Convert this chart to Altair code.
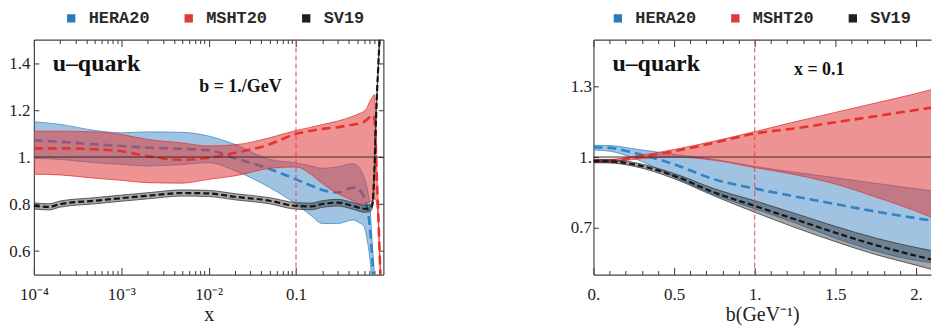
import altair as alt
import pandas as pd

SERIF = "Liberation Serif"
MONO = "Courier New"

SERIES = ["HERA20", "MSHT20", "SV19"]
SERIES_COLORS = ["#2b7bba", "#e03a3a", "#231f20"]

# ---------------- left panel: ratio vs x at b = 1/GeV ----------------
HERA_L_X = [1e-4, 2e-4, 5e-4, 1e-3, 2e-3, 5e-3, 1e-2, 2e-2, 5e-2, 0.1, 0.15, 0.2, 0.3, 0.45,
            0.53, 0.6, 0.65, 0.7, 0.75, 0.79, 0.83]
HERA_L_HI = [1.150, 1.139, 1.113, 1.103, 1.107, 1.105, 1.089, 1.054, 0.990, 0.975, 0.962, 0.952,
             0.958, 0.972, 0.955, 0.915, 0.870, 0.790, 0.620, 0.500, 0.350]
HERA_L_MID = [1.071, 1.065, 1.054, 1.047, 1.040, 1.035, 1.029, 0.995, 0.949, 0.905, 0.878, 0.860,
              0.849, 0.870, 0.860, 0.830, 0.785, 0.705, 0.555, 0.440, 0.300]
HERA_L_LO = [0.995, 0.990, 0.976, 0.969, 0.962, 0.968, 0.976, 0.942, 0.870, 0.800, 0.750, 0.717,
             0.717, 0.732, 0.720, 0.705, 0.650, 0.570, 0.450, 0.350, 0.250]

MSHT_L_X = [1e-4, 2e-4, 5e-4, 1e-3, 2e-3, 5e-3, 1e-2, 2e-2, 5e-2, 0.1, 0.15, 0.2, 0.3, 0.45,
            0.53, 0.6, 0.65, 0.7, 0.75, 0.79, 0.81, 0.84, 0.87, 0.9, 0.95]
MSHT_L_HI = [1.110, 1.110, 1.107, 1.096, 1.075, 1.060, 1.047, 1.052, 1.082, 1.113, 1.127, 1.138,
             1.153, 1.174, 1.185, 1.195, 1.210, 1.237, 1.255, 1.266, 1.200, 0.950, 0.800, 0.640, 0.400]
MSHT_L_MID = [1.037, 1.037, 1.033, 1.025, 1.004, 0.988, 0.997, 1.018, 1.054, 1.099, 1.112, 1.120,
              1.127, 1.138, 1.143, 1.150, 1.160, 1.170, 1.180, 1.160, 1.100, 0.920, 0.780, 0.620, 0.380]
MSHT_L_LO = [0.927, 0.924, 0.910, 0.901, 0.891, 0.889, 0.905, 0.920, 0.952, 0.958, 0.925, 0.887,
             0.845, 0.814, 0.800, 0.800, 0.805, 0.810, 0.815, 0.820, 0.820, 0.800, 0.740, 0.600, 0.360]

SV19_L_X = [1e-4, 1.5e-4, 2e-4, 5e-4, 1e-3, 2e-3, 5e-3, 1e-2, 2e-2, 5e-2, 0.1, 0.15, 0.2, 0.3,
            0.45, 0.6, 0.7, 0.75, 0.79, 0.825, 0.9, 0.95]
SV19_L_HI = [0.805, 0.801, 0.813, 0.827, 0.838, 0.848, 0.860, 0.858, 0.844, 0.827, 0.806, 0.804,
             0.814, 0.820, 0.806, 0.795, 0.797, 0.815, 0.965, 1.185, 1.505, 1.715]
SV19_L_MID = [0.792, 0.788, 0.800, 0.814, 0.825, 0.835, 0.847, 0.845, 0.831, 0.814, 0.792, 0.790,
              0.800, 0.806, 0.792, 0.780, 0.782, 0.800, 0.950, 1.170, 1.490, 1.700]
SV19_L_LO = [0.779, 0.775, 0.787, 0.801, 0.812, 0.822, 0.834, 0.832, 0.818, 0.801, 0.778, 0.776,
             0.786, 0.792, 0.778, 0.765, 0.767, 0.785, 0.935, 1.155, 1.475, 1.685]

# ---------------- right panel: ratio vs b at x = 0.1 ----------------
B_R = [0.0, 0.1, 0.25, 0.5, 0.75, 1.0, 1.25, 1.5, 1.75, 2.0, 2.17]
HERA_R_HI = [1.050, 1.049, 1.035, 1.011, 0.990, 0.960, 0.935, 0.912, 0.888, 0.865, 0.850]
HERA_R_MID = [1.042, 1.039, 1.018, 0.969, 0.905, 0.866, 0.832, 0.800, 0.768, 0.740, 0.722]
HERA_R_LO = [1.030, 1.025, 0.995, 0.915, 0.840, 0.780, 0.720, 0.655, 0.600, 0.560, 0.545]
MSHT_R_HI = [0.990, 0.990, 1.003, 1.032, 1.068, 1.108, 1.150, 1.190, 1.230, 1.270, 1.300]
MSHT_R_MID = [0.983, 0.983, 0.997, 1.025, 1.061, 1.100, 1.122, 1.148, 1.174, 1.200, 1.218]
MSHT_R_LO = [0.976, 0.977, 0.990, 1.000, 0.986, 0.955, 0.925, 0.885, 0.830, 0.770, 0.722]
SV19_R_HI = [0.990, 0.989, 0.977, 0.930, 0.865, 0.814, 0.760, 0.705, 0.655, 0.615, 0.593]
SV19_R_MID = [0.983, 0.982, 0.969, 0.920, 0.849, 0.792, 0.735, 0.678, 0.625, 0.580, 0.552]
SV19_R_LO = [0.976, 0.975, 0.961, 0.908, 0.834, 0.765, 0.700, 0.640, 0.585, 0.540, 0.508]

# tick positions
L_MAJOR = [1e-4, 1e-3, 1e-2, 0.1]
L_MINOR = [k * 10.0 ** e for e in range(-4, 0) for k in range(2, 10)]
L_Y = [0.6, 0.8, 1.0, 1.2, 1.4]
R_MAJOR = [0.0, 0.5, 1.0, 1.5, 2.0]
R_MINOR = [0.1, 0.2, 0.3, 0.4, 0.6, 0.7, 0.8, 0.9, 1.1, 1.2, 1.3, 1.4, 1.6, 1.7, 1.8, 1.9]
R_Y = [0.7, 1.0, 1.3]

STYLE = {
    "HERA20": dict(opacity=0.45, edge="#3f8dca", line="#2f84c6", dash=[9, 5], lw=2.6),
    "MSHT20": dict(opacity=0.55, edge="#e03a3a", line="#e8312b", dash=[9, 5], lw=2.6),
    "SV19": dict(opacity=0.40, edge="#3a3a3a", line="#151515", dash=[6, 3], lw=2.2),
}
FRAME = "#444"


def frame(x, hi, mid, lo, name):
    return pd.DataFrame({"x": x, "hi": hi, "mid": mid, "lo": lo, "series": name})


def ax(orient, values, size, label_expr=None, title=None, pad=4):
    kw = dict(orient=orient, values=values, tickSize=size, offset=-size, domain=False,
              grid=False, tickColor="#333", tickWidth=1)
    if label_expr:
        kw.update(labels=True, labelExpr=label_expr, labelFont=SERIF, labelFontSize=17,
                  labelColor="#222", labelPadding=pad, labelFlush=False, labelOverlap=False)
    else:
        kw.update(labels=False)
    if title:
        kw.update(title=title, titleFont=SERIF, titleFontSize=20, titleFontWeight="normal",
                  titleColor="#222", titlePadding=2)
    else:
        kw.update(title=None)
    return alt.Axis(**kw)


def dom(orient):
    return alt.Axis(orient=orient, domain=True, domainColor=FRAME, domainWidth=1.2, ticks=False,
                    labels=False, grid=False, title=None)


def panel(frames, xscale, yscale, x_axes, y_axes, legend, width, height, vline, texts):
    color_scale = alt.Scale(domain=SERIES, range=SERIES_COLORS)
    makers = []
    for df in frames:
        name = df["series"].iloc[0]
        st = STYLE[name]
        base = alt.Chart(df)

        def area(xa, ya, base=base, st=st):
            return base.mark_area(opacity=st["opacity"], clip=True, interpolate="monotone").encode(
                x=alt.X("x:Q", scale=xscale, axis=xa),
                y=alt.Y("lo:Q", scale=yscale, axis=ya),
                y2="hi:Q",
                color=alt.Color("series:N", scale=color_scale, legend=legend),
            )

        def edge(field):
            def f(xa, ya, base=base, st=st, field=field):
                return base.mark_line(color=st["edge"], strokeWidth=0.8, clip=True,
                                      interpolate="monotone").encode(
                    x=alt.X("x:Q", scale=xscale, axis=xa),
                    y=alt.Y(f"{field}:Q", scale=yscale, axis=ya),
                )
            return f

        def mid(xa, ya, base=base, st=st):
            return base.mark_line(color=st["line"], strokeWidth=st["lw"], strokeDash=st["dash"],
                                  clip=True, interpolate="monotone").encode(
                x=alt.X("x:Q", scale=xscale, axis=xa),
                y=alt.Y("mid:Q", scale=yscale, axis=ya),
            )

        makers += [area, edge("hi"), edge("lo"), mid]

    layers = []
    for i, mk in enumerate(makers):
        xa = x_axes[i] if i < len(x_axes) else None
        ya = y_axes[i] if i < len(y_axes) else None
        layers.append(mk(xa, ya))

    one = pd.DataFrame({"k": [0]})
    layers.append(alt.Chart(one).mark_rule(color="#3a2a2a", strokeWidth=1).encode(
        y=alt.YDatum(datum=1.0, axis=None, scale=yscale)))
    layers.append(alt.Chart(one).mark_rule(color="#e8474a", strokeWidth=1, strokeDash=[5, 3]).encode(
        x=alt.XDatum(datum=vline, axis=None, scale=xscale)))
    for label, xv, yv, size in texts:
        layers.append(alt.Chart(pd.DataFrame({"label": [label]})).mark_text(
            font=SERIF, fontSize=size, fontWeight="bold", color="#111").encode(
            x=alt.XDatum(datum=xv, axis=None, scale=xscale),
            y=alt.YDatum(datum=yv, axis=None, scale=yscale),
            text="label:N"))

    return alt.layer(*layers).resolve_axis(x="independent", y="independent").properties(
        width=width, height=height)


def legend_at(lx, colpad):
    return alt.Legend(orient="none", legendX=lx, legendY=-30, direction="horizontal", title=None,
                      symbolType="square", symbolSize=70, symbolOpacity=1, symbolStrokeWidth=0,
                      labelFont=MONO, labelFontSize=17, labelFontWeight="bold",
                      labelColor="#2a2a2a", labelOffset=9, columnPadding=colpad, padding=0)


left_frames = [
    frame(HERA_L_X, HERA_L_HI, HERA_L_MID, HERA_L_LO, "HERA20"),
    frame(MSHT_L_X, MSHT_L_HI, MSHT_L_MID, MSHT_L_LO, "MSHT20"),
    frame(SV19_L_X, SV19_L_HI, SV19_L_MID, SV19_L_LO, "SV19"),
]
right_frames = [
    frame(B_R, HERA_R_HI, HERA_R_MID, HERA_R_LO, "HERA20"),
    frame(B_R, MSHT_R_HI, MSHT_R_MID, MSHT_R_LO, "MSHT20"),
    frame(B_R, SV19_R_HI, SV19_R_MID, SV19_R_LO, "SV19"),
]

L_LABELS = ("datum.value < 0.0002 ? '10⁻⁴' : datum.value < 0.002 ? '10⁻³' : "
            "datum.value < 0.02 ? '10⁻²' : '0.1'")
Y_LABELS = "datum.value == 1 ? '1.' : format(datum.value, '.1f')"
R_LABELS = ("datum.value == 0 ? '0.' : datum.value == 1 ? '1.' : datum.value == 2 ? '2.' : "
            "format(datum.value, '.1f')")

left = panel(
    left_frames,
    alt.Scale(type="log", domain=[1e-4, 1.0], nice=False),
    alt.Scale(domain=[0.5, 1.5], nice=False, zero=False),
    [ax("bottom", L_MAJOR, 7, L_LABELS, "x", pad=12), ax("bottom", L_MINOR, 4),
     ax("top", L_MAJOR, 7), ax("top", L_MINOR, 4), dom("bottom"), dom("top")],
    [ax("left", L_Y, 5, Y_LABELS), ax("right", L_Y, 5), dom("left"), dom("right")],
    legend_at(29, 30), 351, 236, 0.1,
    [("u–quark", 5.2e-4, 1.394, 24), ("b = 1./GeV", 0.0231, 1.297, 18)],
)

right = panel(
    right_frames,
    alt.Scale(domain=[0.0, 2.093], nice=False, zero=False),
    alt.Scale(domain=[0.5, 1.5], nice=False, zero=False),
    [ax("bottom", R_MAJOR, 7, R_LABELS, "b(GeV⁻¹)", pad=12), ax("bottom", R_MINOR, 4),
     ax("top", R_MAJOR, 7), ax("top", R_MINOR, 4), dom("bottom"), dom("top")],
    [ax("left", R_Y, 5, Y_LABELS, pad=2), dom("left")],
    legend_at(16, 30), 339, 236, 1.0,
    [("u–quark", 0.389, 1.394, 24), ("x = 0.1", 1.40, 1.369, 18)],
)

chart = alt.hconcat(left, right, spacing=186).resolve_scale(color="independent").configure_view(
    stroke="transparent").properties(padding=0)

chart.save("out.html", embed_options={"renderer": "svg", "actions": False})
